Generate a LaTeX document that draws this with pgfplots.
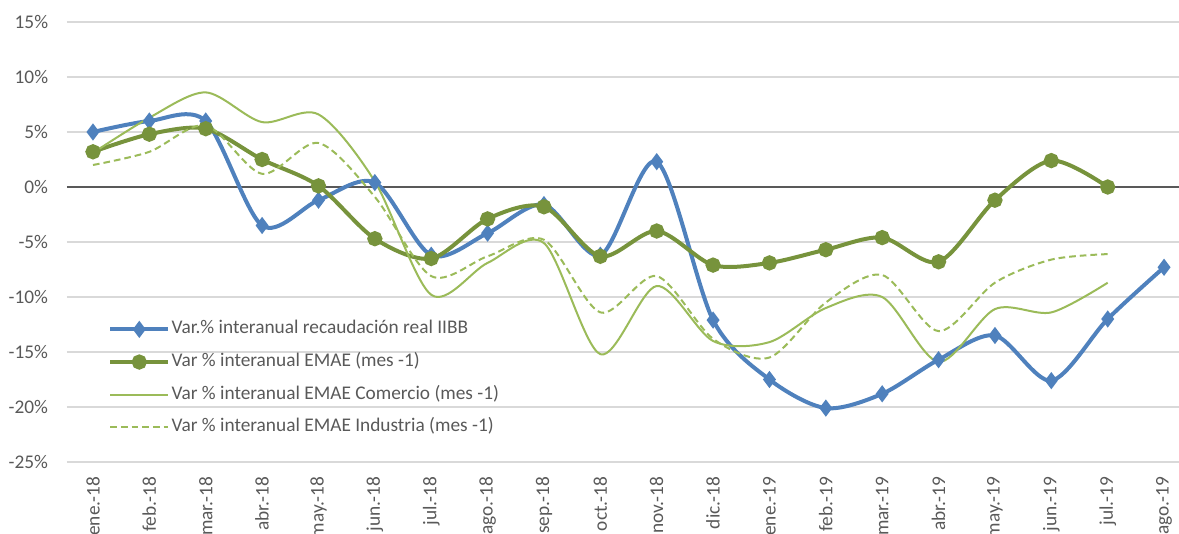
\documentclass[border=0pt]{standalone}
\usepackage{pgfplots}
\pgfplotsset{compat=1.18}
\usepackage{pgfplotstable}
\usepackage{fontspec}
\setmainfont{Carlito}
\definecolor{cblue}{HTML}{4F81BD}
\definecolor{cdgreen}{HTML}{77933C}
\definecolor{clgreen}{HTML}{9BBB59}
\definecolor{cgrid}{HTML}{D9D9D9}
\definecolor{ctext}{HTML}{595959}
\pgfplotstableread{
x iibb
0 5.0
1 6.0
2 6.0
3 -3.5
4 -1.2
5 0.4
6 -6.2
7 -4.2
8 -1.6
9 -6.2
10 2.3
11 -12.1
12 -17.5
13 -20.1
14 -18.8
15 -15.7
16 -13.5
17 -17.6
18 -12.0
19 -7.3
}\tiibb
\pgfplotstableread{
x emae com ind
0 3.2 3.1 2.0
1 4.8 6.3 3.2
2 5.3 8.6 5.6
3 2.5 5.9 1.2
4 0.1 6.6 4.0
5 -4.7 0.5 -0.9
6 -6.5 -9.8 -8.1
7 -2.9 -6.9 -6.3
8 -1.8 -5.1 -4.8
9 -6.3 -15.2 -11.4
10 -4.0 -9.0 -8.1
11 -7.1 -14.0 -13.8
12 -6.9 -14.1 -15.5
13 -5.7 -11.0 -10.5
14 -4.6 -10.0 -8.0
15 -6.8 -15.9 -13.1
16 -1.2 -11.1 -8.7
17 2.4 -11.4 -6.6
18 0.0 -8.7 -6.1
}\temae
\begin{document}
\begin{tikzpicture}
\begin{axis}[
  at={(0,0)}, anchor=south west,
  scale only axis, width=834pt, height=330pt,
  xmin=-0.461, xmax=19.265, ymin=-25, ymax=15,
  xtick={0,...,19},
  xticklabels={ene.-18,feb.-18,mar.-18,abr.-18,may.-18,jun.-18,jul.-18,ago.-18,sep.-18,oct.-18,nov.-18,dic.-18,ene.-19,feb.-19,mar.-19,abr.-19,may.-19,jun.-19,jul.-19,ago.-19},
  ytick={-25,-20,...,15},
  yticklabels={-25\%,-20\%,-15\%,-10\%,-5\%,0\%,5\%,10\%,15\%},
  extra y ticks={0}, extra y tick labels={},
  extra y tick style={grid style={draw=black!65, line width=0.9pt}},
  ymajorgrids, grid style={draw=cgrid, line width=0.9pt},
  axis line style={draw=none},
  major tick length=0pt,
  tick label style={font=\fontsize{14.5}{17}\selectfont, text=ctext},
  xticklabel style={rotate=90, anchor=east, inner sep=0pt, xshift=-11pt},
  yticklabel style={inner sep=0pt, xshift=-14pt},
  legend cell align=left,
  legend style={draw=none, fill=none, at={(0.0369,0.324)}, anchor=north west,
    inner sep=0pt, row sep=10pt,
    font=\fontsize{14.5}{17}\selectfont, text=ctext,
    nodes={inner sep=1pt, text height=9.5pt, text depth=3pt}},
  legend image code/.code={\draw[mark repeat=2,mark phase=2,#1] plot coordinates {(0pt,0pt) (21.75pt,0pt) (43.5pt,0pt)};},
]
\addplot[cblue, line width=3pt, smooth, mark=diamond*, mark size=4pt, mark options={solid}] table[x=x,y=iibb]{\tiibb};
\addlegendentry{Var.\% interanual recaudación real IIBB}
\addplot[cdgreen, line width=3pt, smooth, mark=*, mark size=4.2pt, mark options={solid}] table[x=x,y=emae]{\temae};
\addlegendentry{Var \% interanual EMAE (mes -1)}
\addplot[clgreen, line width=1.5pt, smooth, mark=none] table[x=x,y=com]{\temae};
\addlegendentry{Var \% interanual EMAE Comercio (mes -1)}
\addplot[clgreen, line width=1.5pt, smooth, dash pattern=on 5pt off 3pt, mark=none] table[x=x,y=ind]{\temae};
\addlegendentry{Var \% interanual EMAE Industria (mes -1)}
\end{axis}
\pgfresetboundingbox
\path (-50.25pt,-53.25pt) rectangle (834pt,346.5pt);
\end{tikzpicture}
\end{document}
